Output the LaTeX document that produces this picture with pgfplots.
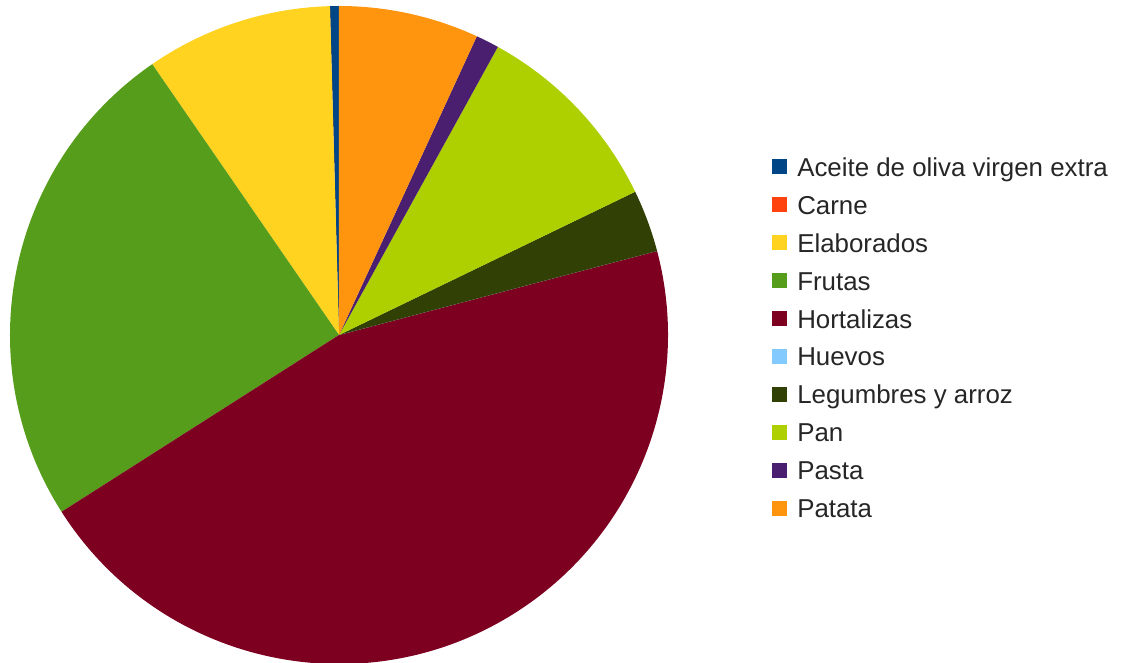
\documentclass[border=0pt]{standalone}
\usepackage{pgfplots}
\pgfplotsset{compat=1.18}
\usepackage{pgfplotstable}
\usepackage{fontspec}
\setmainfont{Liberation Sans}
\definecolor{cA}{HTML}{004586}
\definecolor{cB}{HTML}{FF420E}
\definecolor{cC}{HTML}{FFD320}
\definecolor{cD}{HTML}{579D1C}
\definecolor{cE}{HTML}{7E0021}
\definecolor{cF}{HTML}{83CAFF}
\definecolor{cG}{HTML}{314004}
\definecolor{cH}{HTML}{AECF00}
\definecolor{cI}{HTML}{4B1F6F}
\definecolor{cJ}{HTML}{FF950E}
\pgfplotstableread[col sep=comma]{
name,value,color
Aceite de oliva virgen extra,0.44,cA
Carne,0,cB
Elaborados,9.17,cC
Frutas,24.42,cD
Hortalizas,45.08,cE
Huevos,0,cF
Legumbres y arroz,3.06,cG
Pan,9.81,cH
Pasta,1.14,cI
Patata,6.89,cJ
}\datatable
\begin{document}
\begin{tikzpicture}[x=0.75pt,y=0.75pt]
\useasboundingbox (0,0) rectangle (1124,663);
% compute slice angles from the table
\pgfplotstablegetrowsof{\datatable}
\pgfmathtruncatemacro\N{\pgfplotsretval-1}
\xdef\curang{90}
\foreach \i in {0,...,\N}{
  \pgfplotstablegetelem{\i}{value}\of\datatable
  \pgfmathsetmacro\endang{\curang+3.6*\pgfplotsretval}
  \expandafter\xdef\csname sA\i\endcsname{\curang}
  \expandafter\xdef\csname eA\i\endcsname{\endang}
  \xdef\curang{\endang}
  \pgfplotstablegetelem{\i}{color}\of\datatable
  \expandafter\xdef\csname cl\i\endcsname{\pgfplotsretval}
  \pgfplotstablegetelem{\i}{name}\of\datatable
  \expandafter\xdef\csname nm\i\endcsname{\pgfplotsretval}
}
\begin{axis}[at={(254.25pt,246pt)}, anchor=center, scale only axis,
  width=493.5pt, height=493.5pt, xmin=-1, xmax=1, ymin=-1, ymax=1,
  hide axis, clip=false]
\pgfplotsinvokeforeach{0,...,9}{
  \edef\tmpc{\csname cl#1\endcsname}
  \fill[fill=\csname cl#1\endcsname] (axis cs:0,0) -- (axis cs:{cos(\csname sA#1\endcsname)},{sin(\csname sA#1\endcsname)})
    arc[start angle=\csname sA#1\endcsname, end angle=\csname eA#1\endcsname, radius=246.75pt] -- cycle;
}
\end{axis}
% legend
\foreach \i in {0,...,\N}{
  \pgfmathsetmacro\yc{663-(167+37.9*\i)}
  \pgfmathsetmacro\yb{663-(176.5+37.9*\i)}
  \fill[\csname cl\i\endcsname] (772,\yc-7.5) rectangle (787,\yc+7.5);
  \node[anchor=base west, inner sep=0pt, text=black!85, font=\fontsize{19.4pt}{23pt}\selectfont] at (797,\yb) {\csname nm\i\endcsname};
}
\end{tikzpicture}
\end{document}
